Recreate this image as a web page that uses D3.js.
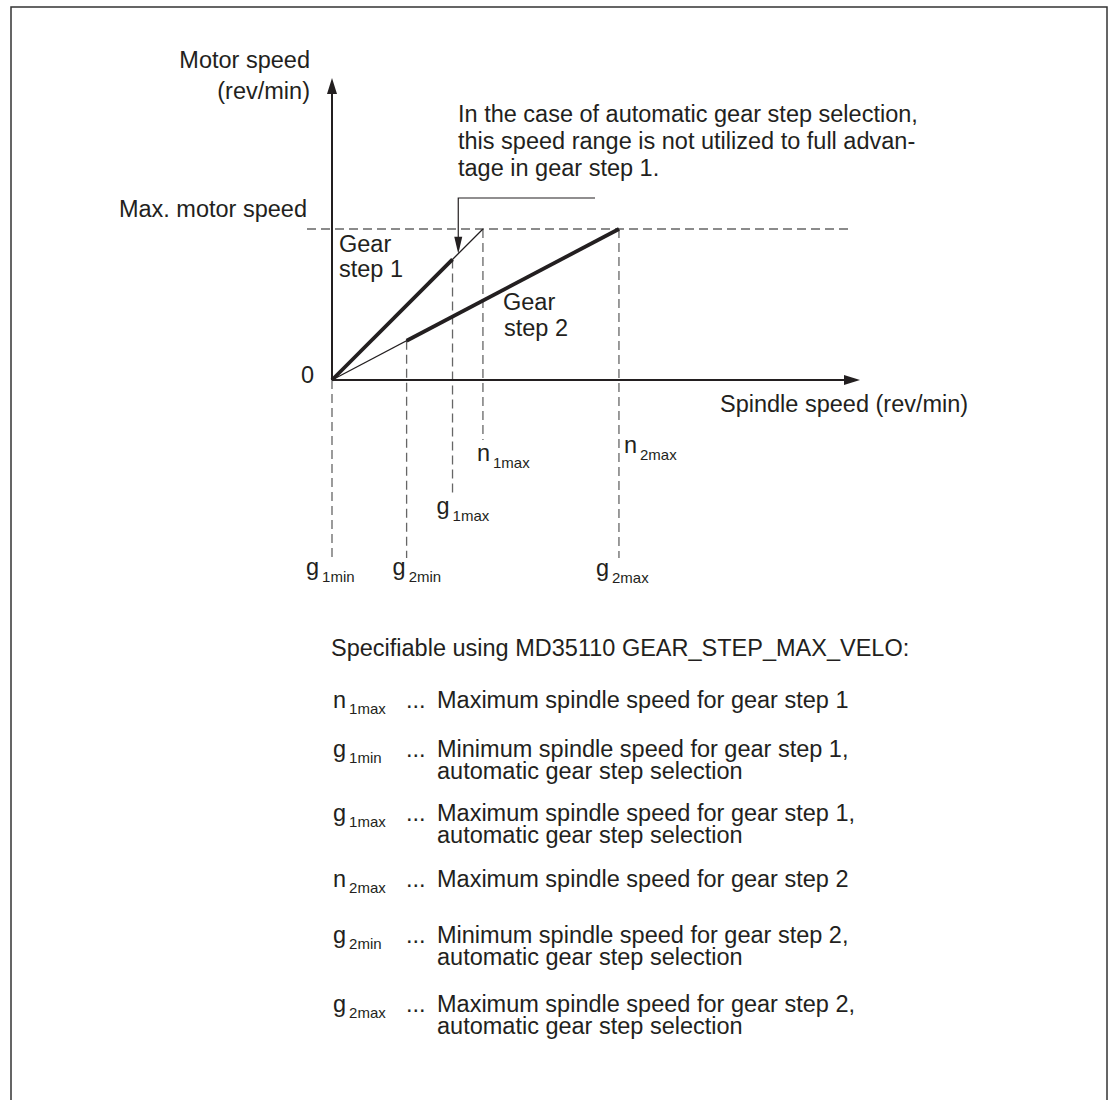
<!DOCTYPE html>
<html><head><meta charset="utf-8">
<script src="https://cdn.jsdelivr.net/npm/d3@7"></script>
<style>
html,body{margin:0;padding:0;background:#fff;}
svg{display:block;}
text{font-family:"Liberation Sans",Arial,sans-serif;fill:#231f20;}
</style></head>
<body>
<svg id="chart" width="1113" height="1100"></svg>
<script>
// ---------- data ----------
const maxMotorSpeed = 100;                 // motor speed (relative units)
const gearNames = ["Gear step 1", "Gear step 2"];
const gearMaxSpindle = [52.6, 100];        // n1max, n2max (spindle speed at max motor speed)
const gearAutoMin = [0, 26];               // g1min, g2min
const gearAutoMax = [42, 100];             // g1max, g2max

const markLetters = ["g", "g", "g", "n", "n", "g"];
const markSubs    = ["1min", "2min", "1max", "1max", "2max", "2max"];
const markValues  = [0, 26, 42, 52.6, 100, 100];
const markGear    = [0, 1, 0, 0, 1, 1];

const yAxisTitle = ["Motor speed", "(rev/min)"];
const xAxisTitle = "Spindle speed (rev/min)";
const maxLabel = "Max. motor speed";
const noteLines = ["In the case of automatic gear step selection,",
                   "this speed range is not utilized to full advan-",
                   "tage in gear step 1."];
const legendTitle = "Specifiable using MD35110 GEAR_STEP_MAX_VELO:";
const legendLetters = ["n", "g", "g", "n", "g", "g"];
const legendSubs = ["1max", "1min", "1max", "2max", "2min", "2max"];
const legendText = [
  ["Maximum spindle speed for gear step 1"],
  ["Minimum spindle speed for gear step 1,", "automatic gear step selection"],
  ["Maximum spindle speed for gear step 1,", "automatic gear step selection"],
  ["Maximum spindle speed for gear step 2"],
  ["Minimum spindle speed for gear step 2,", "automatic gear step selection"],
  ["Maximum spindle speed for gear step 2,", "automatic gear step selection"]
];

// ---------- layout ----------
const svg = d3.select("#chart");
const FS = 23.5, SUB = 15;
const ink = "#231f20", dashCol = "#666";
const x = d3.scaleLinear().domain([0, 184]).range([332, 860]);
const y = d3.scaleLinear().domain([0, 200]).range([380, 78]);
const motorOn = (g, s) => Math.min(s * maxMotorSpeed / gearMaxSpindle[g], maxMotorSpeed);

// frame
svg.append("rect").attr("x", 11).attr("y", 7).attr("width", 1096).attr("height", 1120)
  .attr("fill", "none").attr("stroke", "#333").attr("stroke-width", 1.5);

// dashed max motor speed line
svg.append("line").attr("x1", x(0) - 25).attr("x2", x(180))
  .attr("y1", y(maxMotorSpeed)).attr("y2", y(maxMotorSpeed))
  .attr("stroke", dashCol).attr("stroke-width", 1.3).attr("stroke-dasharray", "9,5");

// vertical dashed drop lines
const dropEnd = {"1max_n": 440, "1max_g": 497};
markValues.forEach((v, i) => {
  if (i === 5) return; // g2max shares line with n2max
  const key = markSubs[i] + "_" + markLetters[i];
  const yEnd = dropEnd[key] || 558;
  svg.append("line").attr("x1", x(v)).attr("x2", x(v))
    .attr("y1", y(motorOn(markGear[i], v))).attr("y2", yEnd)
    .attr("stroke", dashCol).attr("stroke-width", 1.3).attr("stroke-dasharray", "9,5");
});

// gear lines (thin full range, thick for automatic range)
const line = d3.line().x(d => x(d[0])).y(d => y(d[1]));
gearNames.forEach((g, i) => {
  svg.append("path").attr("d", line([[0, 0], [gearMaxSpindle[i], motorOn(i, gearMaxSpindle[i])]]))
    .attr("stroke", ink).attr("stroke-width", 1.3).attr("fill", "none");
  svg.append("path").attr("d", line([[gearAutoMin[i], motorOn(i, gearAutoMin[i])], [gearAutoMax[i], motorOn(i, gearAutoMax[i])]]))
    .attr("stroke", ink).attr("stroke-width", 3.8).attr("fill", "none").attr("stroke-linecap", "butt");
});

// axes with arrows
svg.append("line").attr("x1", x(0)).attr("x2", x(0)).attr("y1", y(0)).attr("y2", y(200) + 12)
  .attr("stroke", ink).attr("stroke-width", 2);
svg.append("path").attr("d", `M${x(0)},${y(200)} L${x(0) - 5},${y(200) + 16} L${x(0) + 5},${y(200) + 16} Z`).attr("fill", ink);
svg.append("line").attr("x1", x(0)).attr("x2", x(184) - 12).attr("y1", y(0)).attr("y2", y(0))
  .attr("stroke", ink).attr("stroke-width", 2);
svg.append("path").attr("d", `M${x(184)},${y(0)} L${x(184) - 16},${y(0) - 5} L${x(184) - 16},${y(0) + 5} Z`).attr("fill", ink);

// axis texts
const t = (tx, ty, s, anchor) => svg.append("text").attr("x", tx).attr("y", ty)
  .attr("font-size", FS).attr("text-anchor", anchor || "start").text(s);
t(310, 68, yAxisTitle[0], "end");
t(310, 99, yAxisTitle[1], "end");
t(307, 217, maxLabel, "end");
t(314, 383, "0", "end");
t(720, 412, xAxisTitle);

// gear labels
t(339, 252, "Gear"); t(339, 277, "step 1");
t(503, 310, "Gear"); t(504, 336, "step 2");

// annotation
noteLines.forEach((s, i) => t(458, 122 + i * 27, s));
const ax = x(gearAutoMax[0] + 2), ay = y(motorOn(0, gearAutoMax[0] + 2));
svg.append("path").attr("d", `M595,198 H${ax} V${ay - 14}`).attr("stroke", ink).attr("stroke-width", 1.2).attr("fill", "none");
svg.append("path").attr("d", `M${ax},${ay} L${ax - 4},${ay - 17} L${ax + 4},${ay - 17} Z`).attr("fill", ink);

// point labels
const labelPos = [ // dx from mark x, baseline
  [-26, 575], [-14, 575], [-16, 514], [-6, 461], [5, 453], [-23, 576]
];
markValues.forEach((v, i) => {
  const tx = svg.append("text").attr("x", x(v) + labelPos[i][0]).attr("y", labelPos[i][1]).attr("font-size", FS);
  tx.append("tspan").text(markLetters[i]);
  tx.append("tspan").attr("dx", 3).attr("dy", 7).attr("font-size", SUB).text(markSubs[i]);
});

// legend
t(331, 656, legendTitle);
const rowY = [708, 757, 821, 887, 943, 1012];
legendText.forEach((lines, i) => {
  const tx = svg.append("text").attr("x", 333).attr("y", rowY[i]).attr("font-size", FS);
  tx.append("tspan").text(legendLetters[i]);
  tx.append("tspan").attr("dx", 3).attr("dy", 6).attr("font-size", SUB).text(legendSubs[i]);
  t(406, rowY[i], "...");
  lines.forEach((s, j) => t(437, rowY[i] + j * 22, s));
});
</script>
</body></html>
